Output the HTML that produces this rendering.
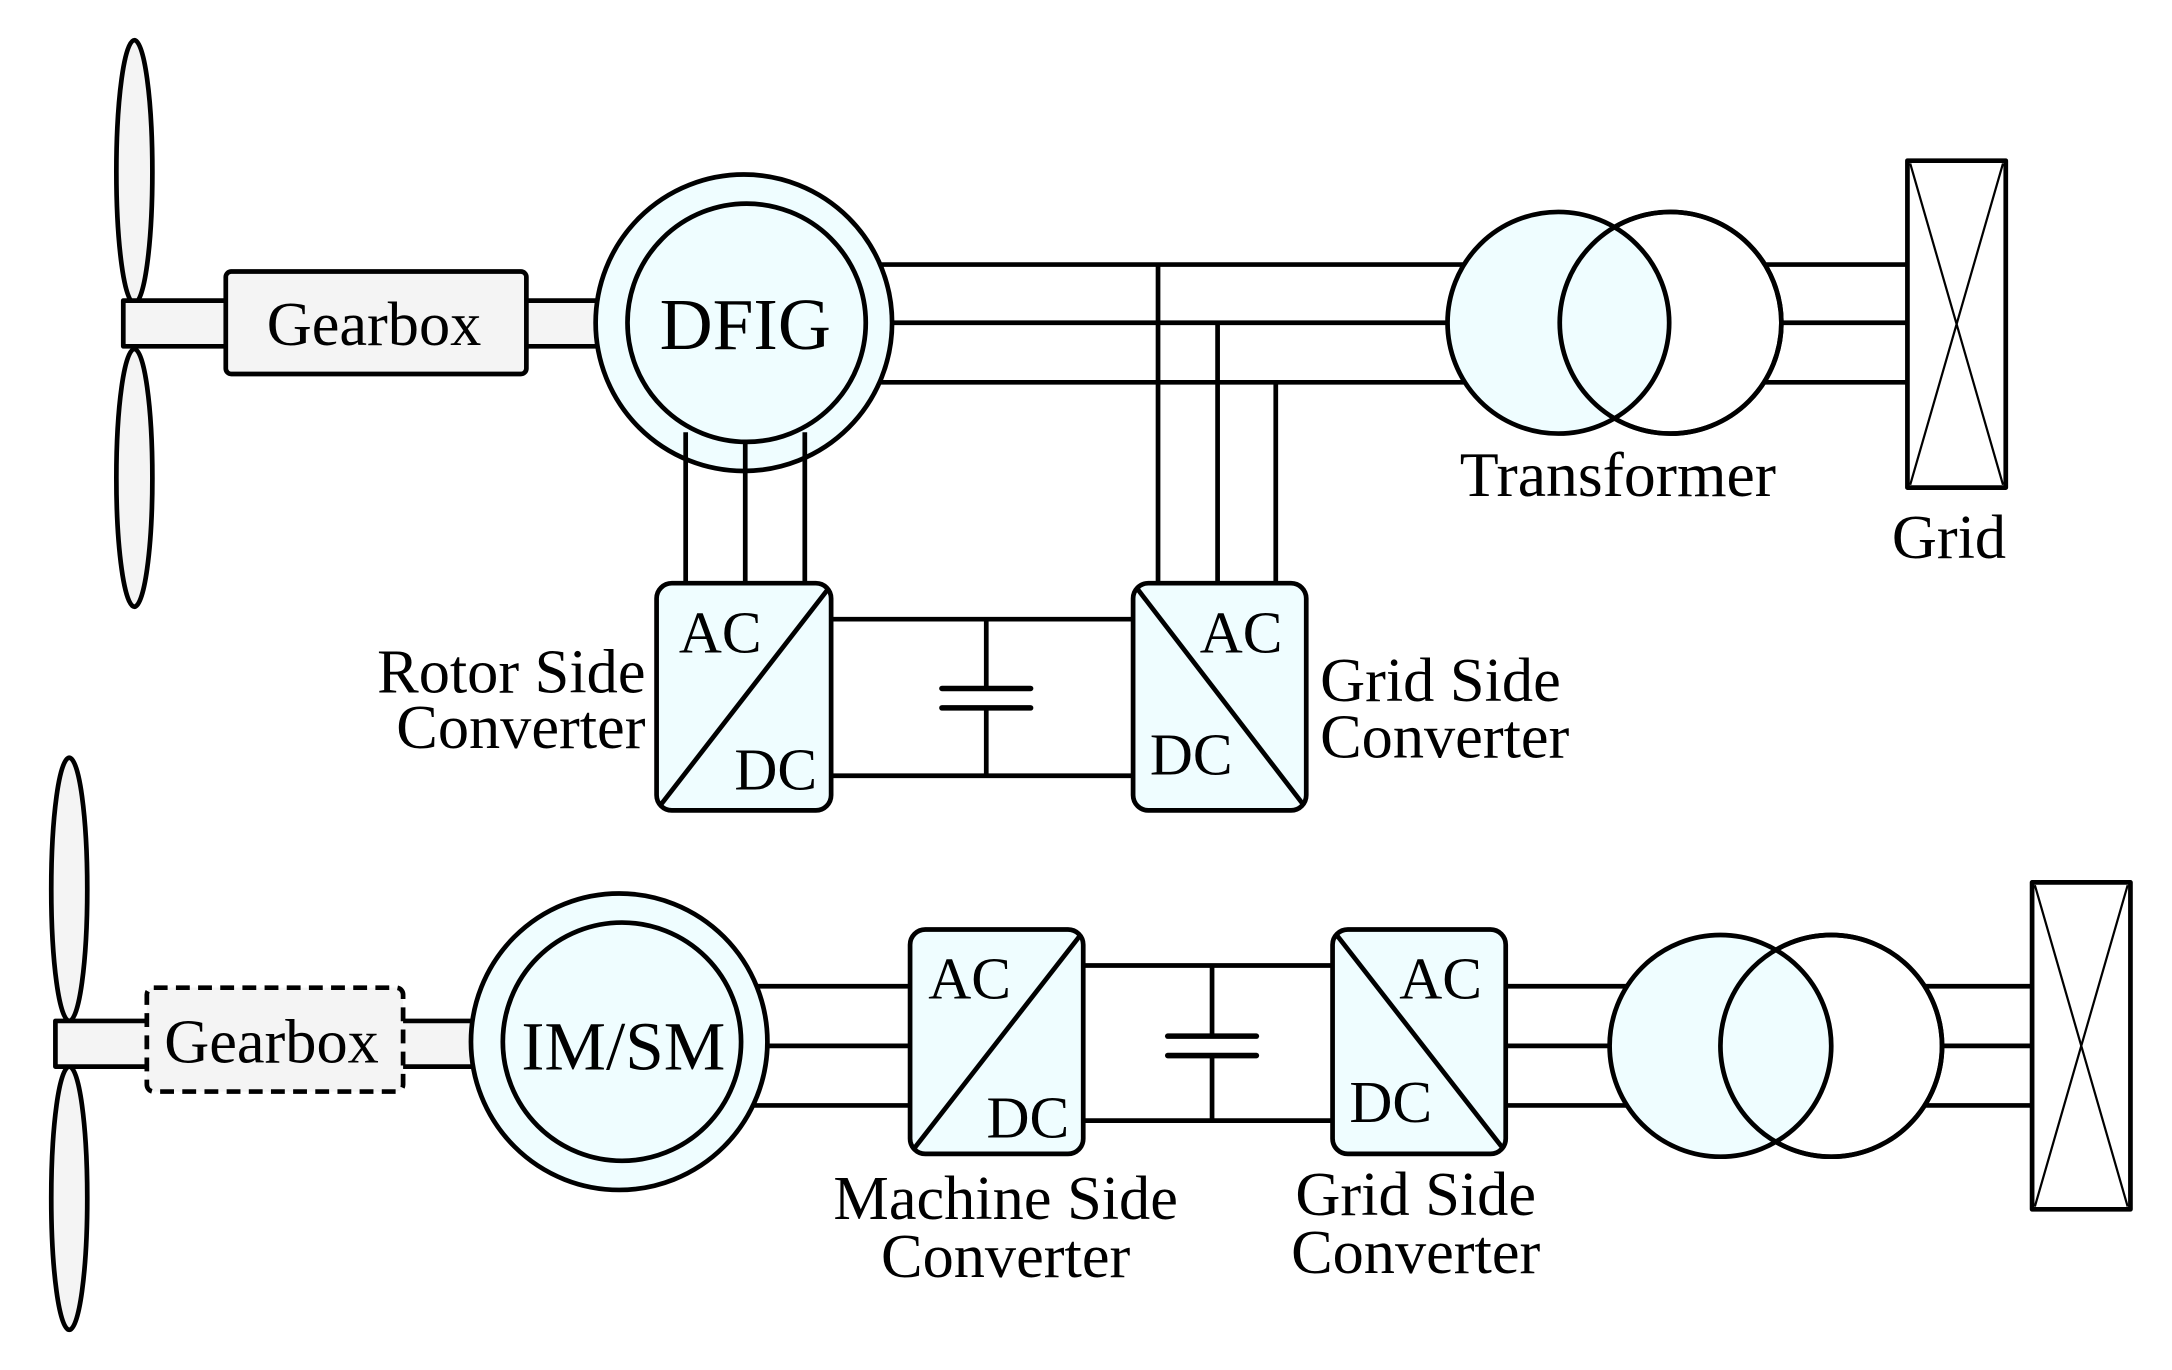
<!DOCTYPE html>
<html><head><meta charset="utf-8"><style>
html,body{margin:0;padding:0;background:#fff;}
svg{display:block;}
text{font-family:"Liberation Serif",serif;fill:#000;}
</style></head><body>
<svg width="2172" height="1370" viewBox="0 0 1568 989" preserveAspectRatio="none" xmlns="http://www.w3.org/2000/svg">
<g stroke="#000" stroke-width="3.4" fill="none" stroke-linejoin="round">
<!-- TOP ROW -->
<ellipse cx="97" cy="124" rx="13" ry="95" fill="#f4f4f4"/>
<ellipse cx="97" cy="345" rx="13" ry="93" fill="#f4f4f4"/>
<rect x="89" y="217" width="370" height="33" fill="#f4f4f4"/>
<rect x="163" y="196" width="217" height="74" rx="4" fill="#f4f4f4"/>
<line x1="600" y1="191" x2="1060" y2="191"/>
<line x1="600" y1="233" x2="1050" y2="233"/>
<line x1="600" y1="276" x2="1060" y2="276"/>
<line x1="836" y1="191" x2="836" y2="422"/>
<line x1="879" y1="233" x2="879" y2="422"/>
<line x1="921" y1="276" x2="921" y2="422"/>
<circle cx="537" cy="233" r="107" fill="#effdff"/>
<circle cx="539" cy="233" r="86" fill="#effdff"/>
<line x1="495" y1="312" x2="495" y2="422"/>
<line x1="538" y1="320" x2="538" y2="422"/>
<line x1="581" y1="312" x2="581" y2="422"/>
<line x1="1250" y1="191" x2="1377" y2="191"/>
<line x1="1250" y1="233" x2="1377" y2="233"/>
<line x1="1250" y1="276" x2="1377" y2="276"/>
<circle cx="1206" cy="233" r="80" fill="#fff"/>
<circle cx="1125" cy="233" r="80" fill="#effdff"/>
<circle cx="1206" cy="233" r="80"/>
<rect x="1377" y="116" width="71" height="236" fill="#fff"/>
<line x1="1379" y1="118" x2="1446" y2="350" stroke-width="1.6"/>
<line x1="1446" y1="118" x2="1379" y2="350" stroke-width="1.6"/>
<line x1="600" y1="447" x2="818" y2="447"/>
<line x1="600" y1="560" x2="818" y2="560"/>
<line x1="712" y1="447" x2="712" y2="497"/>
<line x1="712" y1="511" x2="712" y2="560"/>
<line x1="680" y1="497" x2="744" y2="497" stroke-width="4" stroke-linecap="round"/>
<line x1="680" y1="511" x2="744" y2="511" stroke-width="4" stroke-linecap="round"/>
<rect x="474" y="421" width="126" height="164" rx="11" fill="#effdff"/>
<line x1="477" y1="581" x2="598" y2="425"/>
<rect x="818" y="421" width="125" height="164" rx="11" fill="#effdff"/>
<line x1="821" y1="425" x2="941" y2="581"/>

<!-- BOTTOM ROW -->
<ellipse cx="50" cy="642" rx="13" ry="95" fill="#f4f4f4"/>
<ellipse cx="50" cy="865" rx="13" ry="95" fill="#f4f4f4"/>
<rect x="40" y="737" width="330" height="33" fill="#f4f4f4"/>
<rect x="106" y="713" width="185" height="75" rx="5" fill="#f4f4f4" stroke-dasharray="10,6"/>
<line x1="540" y1="712" x2="657" y2="712"/>
<line x1="540" y1="755" x2="657" y2="755"/>
<line x1="540" y1="798" x2="657" y2="798"/>
<circle cx="447" cy="752" r="107" fill="#effdff"/>
<circle cx="449" cy="752" r="86" fill="#effdff"/>
<line x1="782" y1="697" x2="962" y2="697"/>
<line x1="782" y1="809" x2="962" y2="809"/>
<line x1="875" y1="697" x2="875" y2="748"/>
<line x1="875" y1="762" x2="875" y2="809"/>
<line x1="843" y1="748" x2="907" y2="748" stroke-width="4" stroke-linecap="round"/>
<line x1="843" y1="762" x2="907" y2="762" stroke-width="4" stroke-linecap="round"/>
<rect x="657" y="671" width="125" height="162" rx="11" fill="#effdff"/>
<line x1="660" y1="829" x2="780" y2="675"/>
<rect x="962" y="671" width="125" height="162" rx="11" fill="#effdff"/>
<line x1="965" y1="675" x2="1085" y2="829"/>
<line x1="1087" y1="712" x2="1200" y2="712"/>
<line x1="1087" y1="755" x2="1200" y2="755"/>
<line x1="1087" y1="798" x2="1200" y2="798"/>
<line x1="1360" y1="712" x2="1467" y2="712"/>
<line x1="1360" y1="755" x2="1467" y2="755"/>
<line x1="1360" y1="798" x2="1467" y2="798"/>
<circle cx="1322" cy="755" r="80" fill="#fff"/>
<circle cx="1242" cy="755" r="80" fill="#effdff"/>
<circle cx="1322" cy="755" r="80"/>
<rect x="1467" y="637" width="71" height="236" fill="#fff"/>
<line x1="1469" y1="639" x2="1536" y2="871" stroke-width="1.6"/>
<line x1="1536" y1="639" x2="1469" y2="871" stroke-width="1.6"/>
</g>
<g font-size="43">
<text x="270" y="249" text-anchor="middle" font-size="45">Gearbox</text>
<text x="538" y="252" text-anchor="middle" font-size="53">DFIG</text>
<text x="1168" y="358" text-anchor="middle" font-size="46">Transformer</text>
<text x="1407" y="403" text-anchor="middle" font-size="45">Grid</text>
<text x="520" y="471" text-anchor="middle">AC</text>
<text x="560" y="570" text-anchor="middle">DC</text>
<text x="896" y="471" text-anchor="middle">AC</text>
<text x="860" y="559" text-anchor="middle">DC</text>
<text x="466" y="500" text-anchor="end" font-size="45">Rotor Side</text>
<text x="466" y="540" text-anchor="end" font-size="45">Converter</text>
<text x="953" y="506" font-size="45">Grid Side</text>
<text x="953" y="547" font-size="45">Converter</text>
<text x="196" y="767" text-anchor="middle" font-size="45">Gearbox</text>
<text x="450" y="772" text-anchor="middle" font-size="50">IM/SM</text>
<text x="700" y="721" text-anchor="middle">AC</text>
<text x="742" y="821" text-anchor="middle">DC</text>
<text x="1040" y="721" text-anchor="middle">AC</text>
<text x="1004" y="810" text-anchor="middle">DC</text>
<text x="726" y="880" text-anchor="middle" font-size="45">Machine Side</text>
<text x="726" y="922" text-anchor="middle" font-size="45">Converter</text>
<text x="1022" y="877" text-anchor="middle" font-size="45">Grid Side</text>
<text x="1022" y="919" text-anchor="middle" font-size="45">Converter</text>
</g>
</svg>
</body></html>
